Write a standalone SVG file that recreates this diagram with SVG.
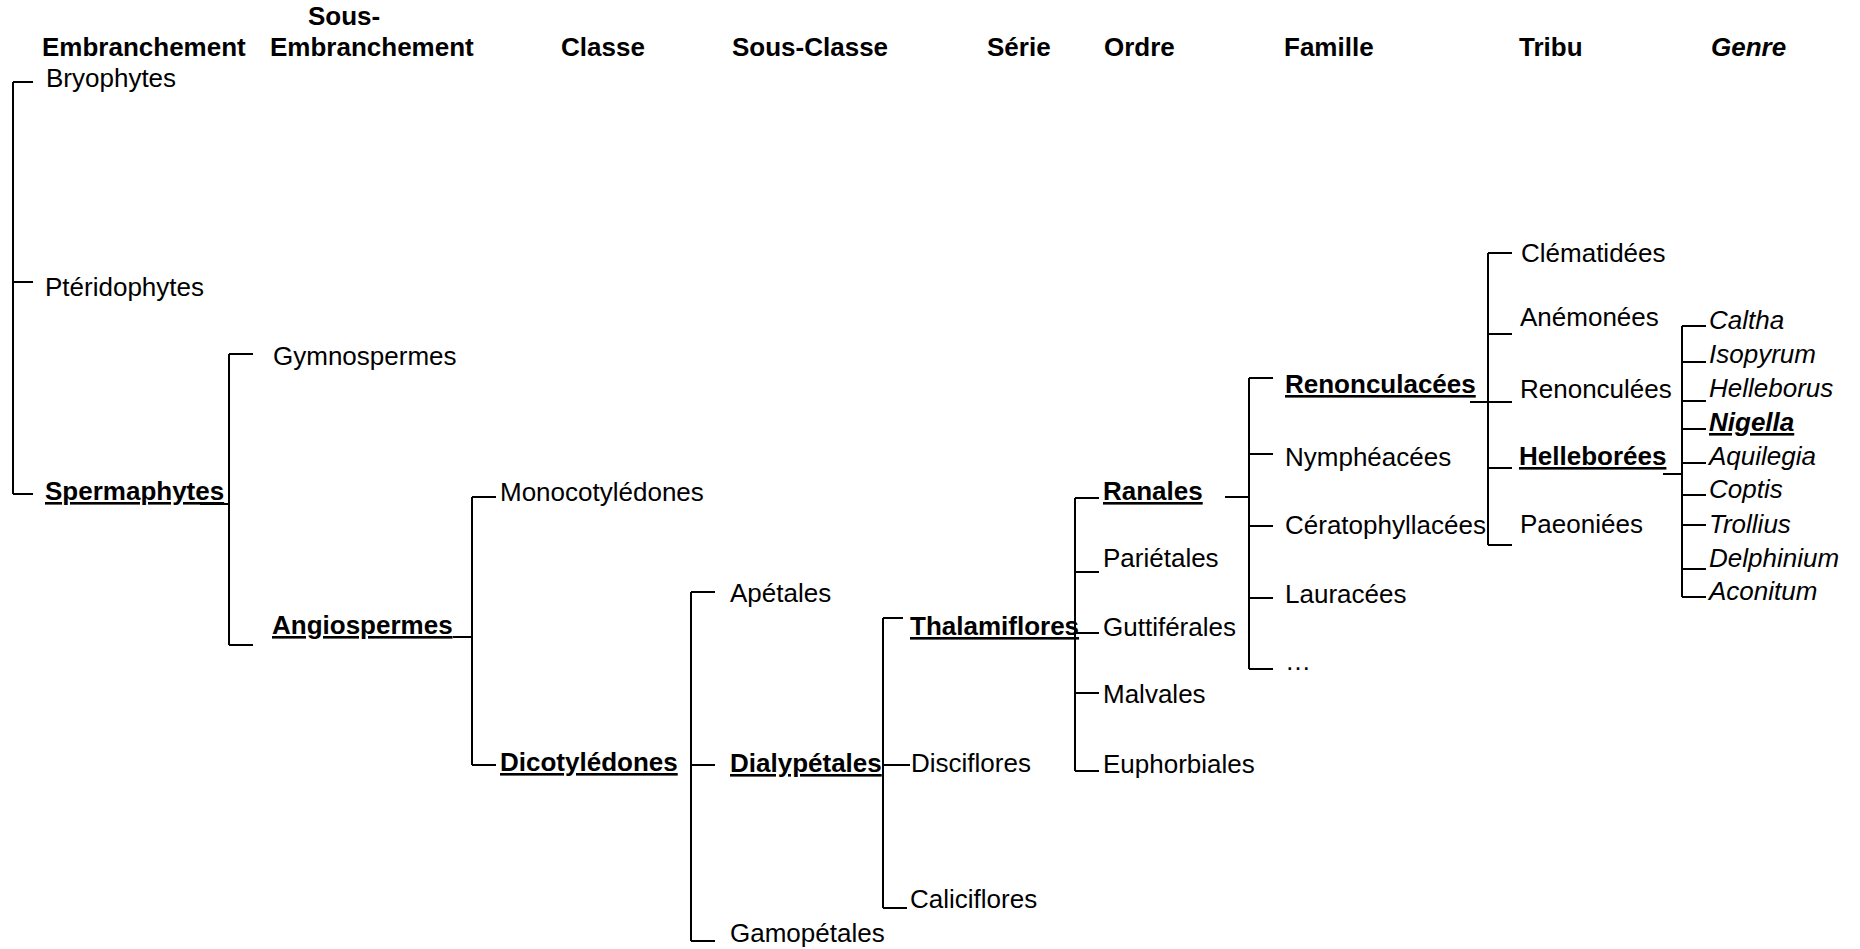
<svg xmlns="http://www.w3.org/2000/svg" width="1860" height="949" viewBox="0 0 1860 949">
<style>
text{font-family:"Liberation Sans",Arial,sans-serif;font-size:26px;fill:#000}
.h{font-weight:bold}
.b{font-weight:bold;text-decoration:underline}
.i{font-style:italic}
.bi{font-style:italic;font-weight:bold;text-decoration:underline}
#connectors line{stroke:#000;stroke-width:2}
</style>
<rect width="1860" height="949" fill="#fff"/>
<g id="headers">
<text class="h" x="308" y="25">Sous-</text>
<text class="h" x="42" y="56">Embranchement</text>
<text class="h" x="270" y="56">Embranchement</text>
<text class="h" x="561" y="56">Classe</text>
<text class="h" x="732" y="56">Sous-Classe</text>
<text class="h" x="987" y="56">Série</text>
<text class="h" x="1104" y="56">Ordre</text>
<text class="h" x="1284" y="56">Famille</text>
<text class="h" x="1519" y="56">Tribu</text>
<text class="h i" x="1711" y="56">Genre</text>
</g>
<g id="connectors">
<line x1="13" y1="82" x2="13" y2="494"/>
<line x1="13" y1="82" x2="33" y2="82"/>
<line x1="13" y1="282" x2="33" y2="282"/>
<line x1="13" y1="494" x2="33" y2="494"/>
<line x1="200" y1="504" x2="229" y2="504"/>
<line x1="229" y1="354" x2="229" y2="645"/>
<line x1="229" y1="354" x2="253" y2="354"/>
<line x1="229" y1="645" x2="253" y2="645"/>
<line x1="453" y1="637" x2="472" y2="637"/>
<line x1="472" y1="497" x2="472" y2="765"/>
<line x1="472" y1="497" x2="496" y2="497"/>
<line x1="472" y1="765" x2="496" y2="765"/>
<line x1="691" y1="592" x2="691" y2="941"/>
<line x1="691" y1="592" x2="715" y2="592"/>
<line x1="691" y1="765" x2="715" y2="765"/>
<line x1="691" y1="941" x2="715" y2="941"/>
<line x1="883" y1="618" x2="883" y2="908"/>
<line x1="883" y1="618" x2="903" y2="618"/>
<line x1="883" y1="765" x2="910" y2="765"/>
<line x1="883" y1="908" x2="907" y2="908"/>
<line x1="1083" y1="633" x2="1099" y2="633"/>
<line x1="1075" y1="498" x2="1075" y2="771"/>
<line x1="1075" y1="498" x2="1099" y2="498"/>
<line x1="1075" y1="572" x2="1099" y2="572"/>
<line x1="1075" y1="633" x2="1099" y2="633"/>
<line x1="1075" y1="693" x2="1099" y2="693"/>
<line x1="1075" y1="771" x2="1099" y2="771"/>
<line x1="1225" y1="497" x2="1249" y2="497"/>
<line x1="1249" y1="378" x2="1249" y2="669"/>
<line x1="1249" y1="378" x2="1273" y2="378"/>
<line x1="1249" y1="454" x2="1273" y2="454"/>
<line x1="1249" y1="526" x2="1273" y2="526"/>
<line x1="1249" y1="598" x2="1273" y2="598"/>
<line x1="1249" y1="669" x2="1273" y2="669"/>
<line x1="1470" y1="402" x2="1488" y2="402"/>
<line x1="1488" y1="253" x2="1488" y2="545"/>
<line x1="1488" y1="253" x2="1512" y2="253"/>
<line x1="1488" y1="334" x2="1512" y2="334"/>
<line x1="1488" y1="402" x2="1512" y2="402"/>
<line x1="1488" y1="468" x2="1512" y2="468"/>
<line x1="1488" y1="545" x2="1512" y2="545"/>
<line x1="1663" y1="474" x2="1682" y2="474"/>
<line x1="1682" y1="326" x2="1682" y2="597"/>
<line x1="1682" y1="326" x2="1706" y2="326"/>
<line x1="1682" y1="362" x2="1706" y2="362"/>
<line x1="1682" y1="401" x2="1706" y2="401"/>
<line x1="1682" y1="429" x2="1706" y2="429"/>
<line x1="1682" y1="463" x2="1706" y2="463"/>
<line x1="1682" y1="495" x2="1706" y2="495"/>
<line x1="1682" y1="525" x2="1706" y2="525"/>
<line x1="1682" y1="569" x2="1706" y2="569"/>
<line x1="1682" y1="597" x2="1706" y2="597"/>
</g>
<g id="n-bryophytes"><text x="46" y="87">Bryophytes</text></g>
<g id="n-pteridophytes"><text x="45" y="296">Ptéridophytes</text></g>
<g id="n-spermaphytes"><text class="b" x="45" y="500">Spermaphytes</text></g>
<g id="n-gymnospermes"><text x="273" y="365">Gymnospermes</text></g>
<g id="n-angiospermes"><text class="b" x="272" y="634">Angiospermes</text></g>
<g id="n-monocotyledones"><text x="500" y="501">Monocotylédones</text></g>
<g id="n-dicotyledones"><text class="b" x="500" y="771">Dicotylédones</text></g>
<g id="n-apetales"><text x="730" y="602">Apétales</text></g>
<g id="n-dialypetales"><text class="b" x="730" y="772">Dialypétales</text></g>
<g id="n-gamopetales"><text x="730" y="942">Gamopétales</text></g>
<g id="n-thalamiflores"><text class="b" x="910" y="635">Thalamiflores</text></g>
<g id="n-disciflores"><text x="911" y="772">Disciflores</text></g>
<g id="n-caliciflores"><text x="910" y="908">Caliciflores</text></g>
<g id="n-ranales"><text class="b" x="1103" y="500">Ranales</text></g>
<g id="n-parietales"><text x="1103" y="567">Pariétales</text></g>
<g id="n-gutt"><text x="1103" y="636">Guttiférales</text></g>
<g id="n-malvales"><text x="1103" y="703">Malvales</text></g>
<g id="n-euphorbiales"><text x="1103" y="773">Euphorbiales</text></g>
<g id="n-renonculacees"><text class="b" x="1285" y="393">Renonculacées</text></g>
<g id="n-nympheacees"><text x="1285" y="466">Nymphéacées</text></g>
<g id="n-ceratophyllacees"><text x="1285" y="534">Cératophyllacées</text></g>
<g id="n-lauracees"><text x="1285" y="603">Lauracées</text></g>
<g id="n-etc"><text x="1285" y="670">…</text></g>
<g id="n-clematidees"><text x="1521" y="262">Clématidées</text></g>
<g id="n-anemonees"><text x="1520" y="326">Anémonées</text></g>
<g id="n-renonculees"><text x="1520" y="398">Renonculées</text></g>
<g id="n-helleborees"><text class="b" x="1519" y="465">Helleborées</text></g>
<g id="n-paeoniees"><text x="1520" y="533">Paeoniées</text></g>
<g id="n-caltha"><text class="i" x="1709" y="329">Caltha</text></g>
<g id="n-isopyrum"><text class="i" x="1709" y="363">Isopyrum</text></g>
<g id="n-helleborus"><text class="i" x="1709" y="397">Helleborus</text></g>
<g id="n-nigella"><text class="bi" x="1709" y="431">Nigella</text></g>
<g id="n-aquilegia"><text class="i" x="1709" y="465">Aquilegia</text></g>
<g id="n-coptis"><text class="i" x="1709" y="498">Coptis</text></g>
<g id="n-trollius"><text class="i" x="1709" y="533">Trollius</text></g>
<g id="n-delphinium"><text class="i" x="1709" y="567">Delphinium</text></g>
<g id="n-aconitum"><text class="i" x="1709" y="600">Aconitum</text></g>
</svg>
